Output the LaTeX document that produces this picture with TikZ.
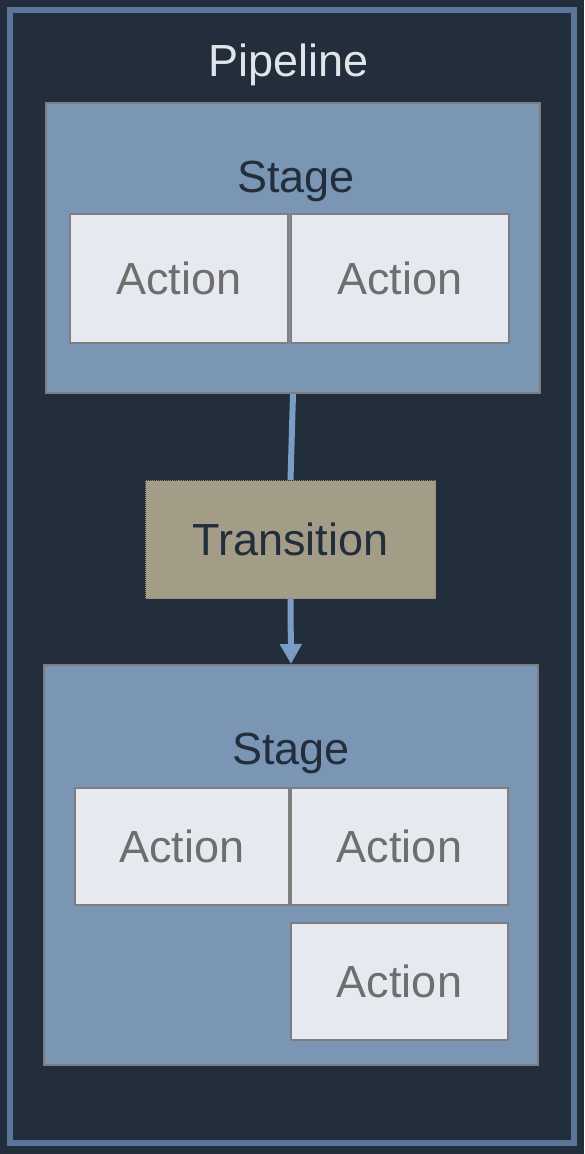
\documentclass[tikz,border=0pt]{standalone}
\usepackage{fontspec}
\setmainfont{Liberation Sans}
\usetikzlibrary{arrows.meta}

\definecolor{pipebg}{HTML}{222E3C}
\definecolor{pipeedge}{HTML}{5B7698}
\definecolor{pipetext}{HTML}{E1E5EA}
\definecolor{stagefill}{HTML}{7B96B4}
\definecolor{boxedge}{HTML}{7E7E7E}
\definecolor{actfill}{HTML}{E6EAF0}
\definecolor{acttext}{HTML}{6E6E6E}
\definecolor{transfill}{HTML}{A39C87}
\definecolor{transedge}{HTML}{8C8676}
\definecolor{flowcol}{HTML}{7B9CC5}

\begin{document}
\begin{tikzpicture}[x=1pt,y=-1pt,font=\fontsize{45}{54}\selectfont,
  stagebox/.style={draw=boxedge,line width=2pt,fill=stagefill,inner sep=0pt,anchor=north west},
  actbox/.style={draw=boxedge,line width=2pt,fill=actfill,text=acttext,inner sep=0pt,
    anchor=north west,minimum width=218pt},
  transbox/.style={draw=transedge,line width=1pt,densely dotted,fill=transfill,text=pipebg,
    inner sep=0pt,anchor=north west},
  flow/.style={draw=flowcol,line width=6pt}]

\useasboundingbox (0,0) rectangle (584,1154);
\fill[pipebg] (0,0) rectangle (584,1154);
\draw[pipeedge,line width=6pt] (10,10) rectangle (574,1143);
\node[text=pipetext] (pipe) at (289,65) {Pipeline};

% first stage
\node[stagebox,minimum width=494pt,minimum height=290pt] (s1) at (45,102) {};
\node[text=pipebg] (s1lab) at (296,181) {Stage};
\node[actbox,minimum height=129pt] (a1) at (69,213) {Action};
\node[actbox,minimum height=129pt] (a2) at (290,213) {Action};

% transition
\node[transbox,minimum width=290pt,minimum height=118pt] (tr) at (145,480) {Transition};

% second stage
\node[stagebox,minimum width=494pt,minimum height=400pt] (s2) at (43,664) {};
\node[text=pipebg] (s2lab) at (291,753) {Stage};
\node[actbox,minimum width=214pt,minimum height=117pt] (a3) at (74,787) {Action};
\node[actbox,minimum width=217pt,minimum height=117pt] (a4) at (290,787) {Action};
\node[actbox,minimum width=217pt,minimum height=117pt] (a5) at (290,922) {Action};

\draw[flow] (s1.south) -- (tr.north);
\draw[flow,-{Triangle[width=21pt,length=20pt]}] (tr.south) -- (s2.north);

\end{tikzpicture}
\end{document}
